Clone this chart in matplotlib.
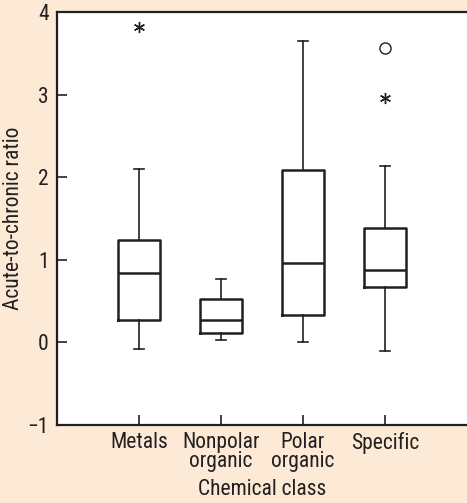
import matplotlib
matplotlib.use("Agg")
import matplotlib.pyplot as plt
from matplotlib import font_manager

entries = font_manager.fontManager.ttflist
names = {f.name for f in entries}
cond = sorted({(f.name, str(f.stretch)) for f in entries
               if str(f.stretch) in ("condensed", "semi-condensed", "extra-condensed", "75", "87.5")
               or "Condensed" in f.name or "Narrow" in f.name})
fam = None
stretch = "normal"
for cand in ["Liberation Sans Narrow", "Roboto Condensed", "Open Sans Condensed"]:
    if cand in names:
        fam = cand
        break
if fam is None:
    for n, s in cond:
        if n in ("Noto Sans", "Open Sans", "Roboto", "Inter"):
            fam, stretch = n, "condensed"
            break
if fam is None:
    fam = "Roboto"
plt.rcParams['font.family'] = [fam, 'DejaVu Sans']
plt.rcParams['font.stretch'] = stretch

categories = ["Metals", "Nonpolar\norganic", "Polar\norganic", "Specific"]
whislo = [-0.08, 0.03, 0.01, -0.11]
q1 = [0.27, 0.11, 0.33, 0.67]
med = [0.84, 0.27, 0.96, 0.88]
q3 = [1.24, 0.52, 2.09, 1.38]
whishi = [2.10, 0.77, 3.65, 2.13]
# outliers: (category index, value)
star_out_x = [1, 4]
star_out_y = [3.82, 2.96]
circ_out_x = [4]
circ_out_y = [3.56]
yticks = [-1, 0, 1, 2, 3, 4]

bg = "#FDEAD6"
ink = "#231F20"

fig = plt.figure(figsize=(4.67, 5.03), dpi=100, facecolor=bg)
ax = fig.add_axes([57/467, (503-425)/503, 1 - 57/467, (425-12)/503])
ax.set_facecolor("white")

stats = []
for i in range(len(categories)):
    stats.append(dict(med=med[i], q1=q1[i], q3=q3[i], whislo=whislo[i],
                      whishi=whishi[i], fliers=[], label=categories[i]))

ax.bxp(stats, positions=[1, 2, 3, 4], widths=0.51, capwidths=0.12,
       showfliers=False,
       boxprops=dict(color=ink, linewidth=1.8),
       medianprops=dict(color=ink, linewidth=1.8),
       whiskerprops=dict(color=ink, linewidth=1.2),
       capprops=dict(color=ink, linewidth=1.2))

ax.plot(star_out_x, star_out_y, linestyle="none", marker=(6, 2, 0),
        markersize=8, color=ink, markeredgewidth=1.0)
ax.plot(circ_out_x, circ_out_y, linestyle="none", marker="o",
        markersize=8, markerfacecolor="white", markeredgecolor=ink,
        markeredgewidth=1.0)

ax.set_xlim(0, 5)
ax.set_ylim(-1, 4.0)
ax.set_yticks(yticks)
ax.set_yticklabels(["\u22121", "0", "1", "2", "3", "4"])
ax.set_xticks([1, 2, 3, 4])
ax.set_xticklabels(categories, linespacing=0.9)
ax.tick_params(axis="both", direction="in", length=7, width=1.2,
               color=ink, labelcolor=ink, labelsize=15.5)
ax.tick_params(axis="x", pad=5)
ax.tick_params(axis="y", pad=6)

for s in ["left", "bottom", "top"]:
    ax.spines[s].set_linewidth(1.6)
    ax.spines[s].set_color(ink)
ax.spines["right"].set_visible(False)

ax.set_ylabel("Acute-to-chronic ratio", fontsize=15.5, color=ink)
ax.yaxis.set_label_coords(-(57 - 24) / 410, 0.5)
ax.set_xlabel("Chemical class", fontsize=15.5, color=ink, labelpad=5)

fig.savefig("out.png", dpi=100, facecolor=bg)
